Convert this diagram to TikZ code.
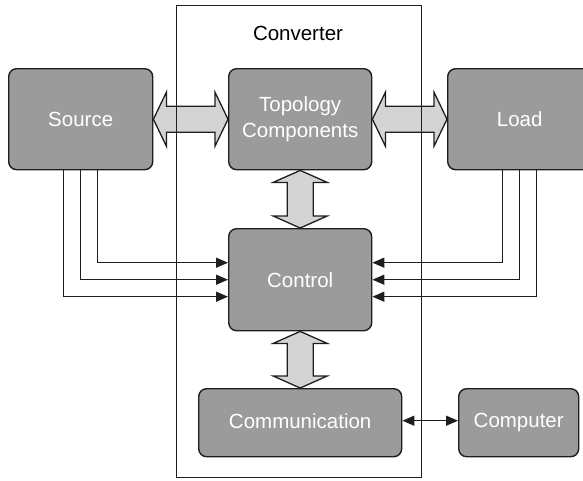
\documentclass[tikz,border=0pt]{standalone}
\usepackage{fontspec}
\setmainfont{Liberation Sans}
\usetikzlibrary{calc,arrows.meta}
\definecolor{boxgray}{HTML}{9B9B9B}
\definecolor{arrgray}{HTML}{D4D4D4}
\definecolor{edge}{HTML}{1E1E1E}
\tikzset{
  blockbox/.style={draw=edge, line width=1.4pt, fill=boxgray, rounded corners=8pt,
    anchor=north west, inner sep=0pt, text=white, align=center,
    font=\fontsize{20.5pt}{26pt}\selectfont},
  framebox/.style={draw=edge, line width=1.3pt, anchor=north west, inner sep=0pt},
  fatarrow/.style={draw=edge, line width=1.3pt, fill=arrgray, line join=miter},
  sig/.style={draw=edge, line width=1.4pt, -{Triangle[length=12pt,width=10pt]}},
  sigboth/.style={draw=edge, line width=1.4pt, {Triangle[length=12pt,width=10pt]}-{Triangle[length=12pt,width=10pt]}}
}
\newcommand{\hfat}[2]{%
  \path[fatarrow] (#1) -- ($(#1)+(13,-27)$) -- ($(#1)+(13,-13)$) -- ($(#2)+(-13,-13)$)
    -- ($(#2)+(-13,-27)$) -- (#2) -- ($(#2)+(-13,27)$) -- ($(#2)+(-13,13)$)
    -- ($(#1)+(13,13)$) -- ($(#1)+(13,27)$) -- cycle;}
\newcommand{\vfat}[2]{%
  \path[fatarrow] (#1) -- ($(#1)+(-27,12)$) -- ($(#1)+(-13,12)$) -- ($(#2)+(-13,-12)$)
    -- ($(#2)+(-27,-12)$) -- (#2) -- ($(#2)+(27,-12)$) -- ($(#2)+(13,-12)$)
    -- ($(#1)+(13,12)$) -- ($(#1)+(27,12)$) -- cycle;}
\begin{document}
\begin{tikzpicture}[x=1pt,y=-1pt]
\useasboundingbox (0,0) rectangle (583,480);
\clip (0,0) rectangle (583,480);
% blocks
\node[blockbox, minimum width=144pt, minimum height=101pt] (src) at (8,68) {Source};
\node[blockbox, minimum width=143pt, minimum height=101pt] (topo) at (228,68) {Topology\\Components};
\node[blockbox, minimum width=144pt, minimum height=101pt] (load) at (447,68) {Load};
\node[blockbox, minimum width=143pt, minimum height=102pt] (ctrl) at (228,228) {Control};
\node[blockbox, minimum width=203pt, minimum height=68pt] (comm) at (198,388) {Communication\vphantom{p}};
\node[blockbox, minimum width=120pt, minimum height=68pt] (comp) at (458,388) {Computer};
% fat arrows
\hfat{src.east}{topo.west}
\hfat{topo.east}{load.west}
\vfat{topo.south}{ctrl.north}
\vfat{ctrl.south}{comm.north}
% converter frame
\node[framebox, minimum width=245pt, minimum height=472pt] (conv) at (176,5) {};
\node[font=\fontsize{20.5pt}{26pt}\selectfont, text=black] (convlabel) at (298,33) {Converter};
% signal lines
\draw[sig] ([xshift=17pt]src.south) |- ([yshift=17pt]ctrl.west);
\draw[sig] (src.south) |- (ctrl.west);
\draw[sig] ([xshift=-17pt]src.south) |- ([yshift=-17pt]ctrl.west);
\draw[sig] ([xshift=-17pt]load.south) |- ([yshift=17pt]ctrl.east);
\draw[sig] (load.south) |- (ctrl.east);
\draw[sig] ([xshift=17pt]load.south) |- ([yshift=-17pt]ctrl.east);
\draw[sigboth] ([yshift=2pt]comm.east) -- ([yshift=2pt]comp.west);
\end{tikzpicture}
\end{document}
